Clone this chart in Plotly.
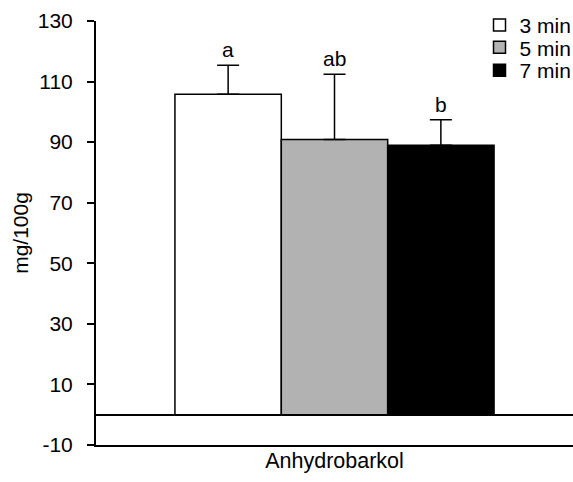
import plotly.graph_objects as go

category = ["Anhydrobarkol"]
series_names = ["3 min", "5 min", "7 min"]
means = [105.8, 90.9, 89.0]
errors_up = [9.6, 21.5, 8.4]
letters = ["a", "ab", "b"]
fill_colors = ["#ffffff", "#b2b2b2", "#000000"]
y_ticks = [-10, 10, 30, 50, 70, 90, 110, 130]
y_tick_text = ["-10", "10", "30", "50", "70", "90", "110", "130"]

font_family = "Liberation Sans, Arial, sans-serif"
bargap = 0.331
bar_w = (1 - bargap) / 3

# one legend per series so the rows can sit close together
legend_ids = ["legend", "legend2", "legend3"]
legend_y = [0.99, 0.937, 0.883]

fig = go.Figure()
for i, name in enumerate(series_names):
    fig.add_trace(go.Bar(
        name=name,
        x=[0],
        y=[means[i]],
        legend=legend_ids[i],
        marker=dict(color=fill_colors[i], line=dict(color="black", width=1.5)),
        error_y=dict(type="data", symmetric=False, array=[errors_up[i]],
                     arrayminus=[0], color="black", thickness=1.5, width=11),
    ))

# Significance letters just above each error bar
offsets = [-1, 0, 1]
for i, letter in enumerate(letters):
    fig.add_annotation(
        x=offsets[i] * bar_w, xref="x", y=means[i] + errors_up[i], yref="y",
        text=letter, showarrow=False, yanchor="bottom", yshift=2,
        font=dict(family=font_family, size=21, color="black"),
    )

legend_style = dict(
    x=0.804, xanchor="left", yanchor="middle",
    font=dict(family=font_family, size=21, color="black"),
    bgcolor="rgba(0,0,0,0)", itemwidth=30,
)

fig.update_layout(
    width=573, height=482,
    margin=dict(l=96, r=0, t=21, b=37, autoexpand=False),
    plot_bgcolor="white", paper_bgcolor="white",
    barmode="group", bargap=bargap, bargroupgap=0,
    font=dict(family=font_family, color="black"),
    showlegend=True,
    legend=dict(y=legend_y[0], **legend_style),
    legend2=dict(y=legend_y[1], **legend_style),
    legend3=dict(y=legend_y[2], **legend_style),
    xaxis=dict(
        range=[-0.5, 0.5],
        showline=True, linecolor="black", linewidth=2,
        ticks="", showgrid=False, zeroline=False,
        tickvals=[0], ticktext=category,
        ticklabelstandoff=-5,
        tickfont=dict(family=font_family, size=21.5, color="black"),
    ),
    yaxis=dict(
        range=[-10, 130], tickvals=y_ticks, ticktext=y_tick_text,
        showline=True, linecolor="black", linewidth=2,
        ticks="outside", ticklen=7, tickwidth=2, tickcolor="black",
        ticklabelstandoff=10,
        showgrid=False, zeroline=True, zerolinecolor="black", zerolinewidth=1.5,
        tickfont=dict(family=font_family, size=21, color="black"),
        title=dict(text="mg/100g", font=dict(family=font_family, size=21, color="black"), standoff=3),
    ),
)

fig.write_html("out.html")
